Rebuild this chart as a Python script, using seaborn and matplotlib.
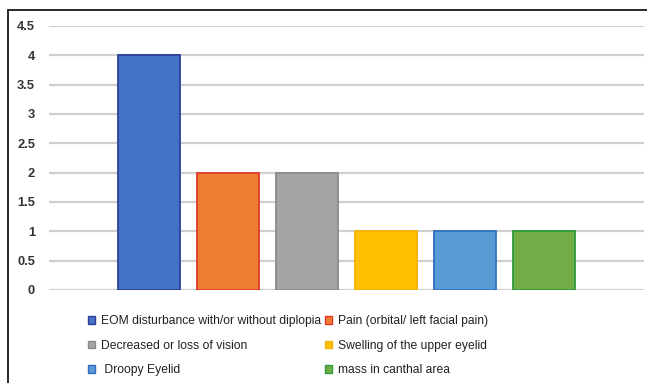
import matplotlib
matplotlib.use("Agg")
import matplotlib.pyplot as plt
from matplotlib.patches import Patch
from matplotlib.lines import Line2D
import seaborn as sns
import pandas as pd

# Symptom counts
symptoms = [
    "EOM disturbance with/or without diplopia",
    "Pain (orbital/ left facial pain)",
    "Decreased or loss of vision",
    "Swelling of the upper eyelid",
    " Droopy Eyelid",
    "mass in canthal area",
]
counts = [4, 2, 2, 1, 1, 1]
y_ticks = [0, 0.5, 1, 1.5, 2, 2.5, 3, 3.5, 4, 4.5]

fill_colors = ["#4472C4", "#ED7D31", "#A5A5A5", "#FFC000", "#5B9BD5", "#70AD47"]
edge_colors = ["#2B3F9A", "#E8362A", "#8A8A8A", "#F2B200", "#2F6FC0", "#2E9A3C"]

sns.set_theme(style="white")
plt.rcParams["font.family"] = ["Liberation Sans", "DejaVu Sans"]

df = pd.DataFrame({"symptom": symptoms, "count": counts})

W, H = 647, 383
fig = plt.figure(figsize=(W / 100, H / 100), dpi=100)
ax = fig.add_axes([49 / W, (H - 290) / H, (644 - 49) / W, (290 - 26) / H])

sns.barplot(
    data=df, x="symptom", y="count", hue="symptom",
    palette=fill_colors, width=0.785, legend=False, ax=ax,
    saturation=1,
)
for bar, ec in zip(ax.patches, edge_colors):
    bar.set_edgecolor(ec)
    bar.set_linewidth(1.3)
    bar.set_zorder(3)

ax.set_xlim(-1.266, 6.266)
ax.set_ylim(0, 4.5)
ax.set_yticks(y_ticks)
ax.set_yticklabels([f"{t:g}" for t in y_ticks], fontsize=9.3,
                   fontweight="bold", color="#333333")
ax.tick_params(axis="y", length=0, pad=10)
ax.set_xticks([])
ax.set_xlabel("")
ax.set_ylabel("")
ax.yaxis.grid(True, color="#cfcfcf", linewidth=1.6, zorder=0)
ax.set_axisbelow(True)
for s in ax.spines.values():
    s.set_visible(False)

# Legend: two columns, read row by row
order = [0, 2, 4, 1, 3, 5]
handles = [Patch(facecolor=fill_colors[i], edgecolor=edge_colors[i], linewidth=1)
           for i in order]
labels = [symptoms[i] for i in order]
fig.legend(
    handles, labels, ncol=2, loc="upper left",
    bbox_to_anchor=(88 / W, (H - 315) / H),
    frameon=False, fontsize=8.7, borderpad=0, borderaxespad=0,
    handlelength=0.62, handleheight=0.62, handletextpad=0.45,
    columnspacing=0.3, labelspacing=1.05, labelcolor="#222222",
)

# Outer chart frame (top and left edges)
fig.add_artist(Line2D([8 / W, 1], [(H - 10) / H] * 2, color="#2a2a2a",
                      linewidth=1.4, transform=fig.transFigure))
fig.add_artist(Line2D([8 / W] * 2, [0, (H - 10) / H], color="#2a2a2a",
                      linewidth=1.4, transform=fig.transFigure))

fig.savefig("out.png", dpi=100, facecolor="white")
